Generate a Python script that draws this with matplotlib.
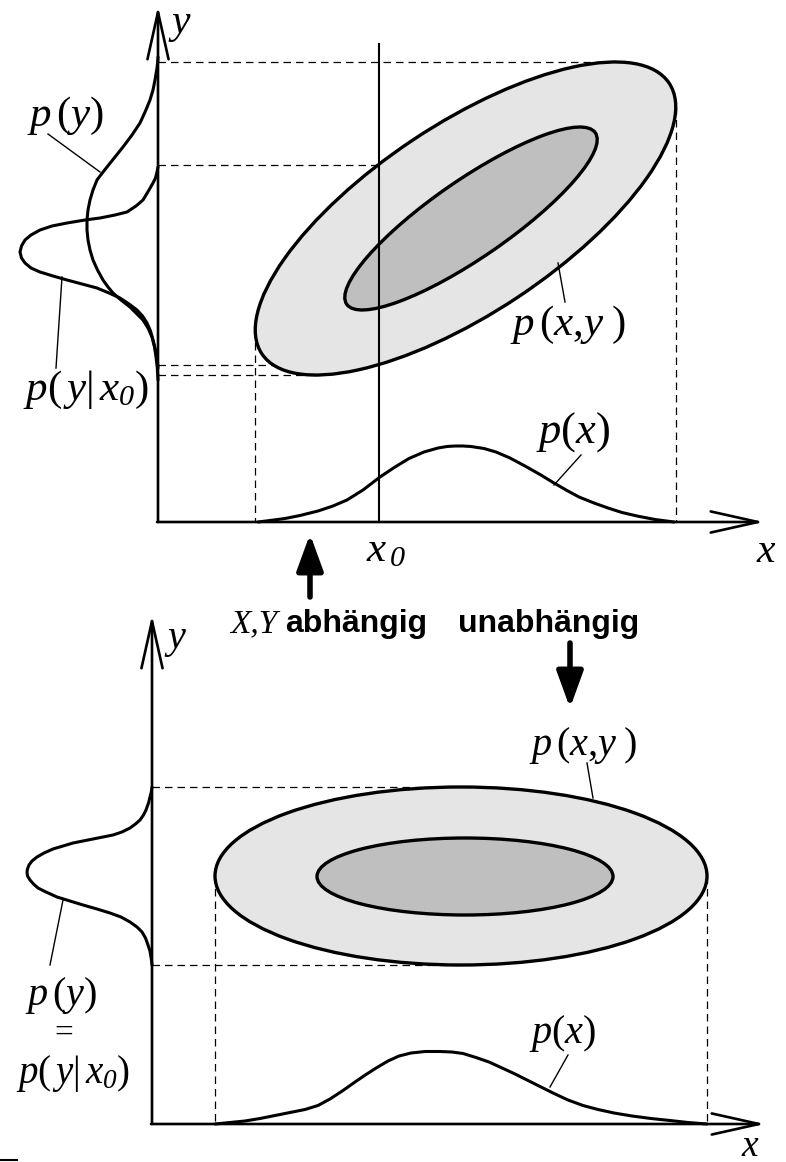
import matplotlib.pyplot as plt
from matplotlib.patches import Ellipse
import numpy as np

plt.rcParams['mathtext.fontset'] = 'custom'
plt.rcParams['mathtext.rm'] = 'Liberation Serif'
plt.rcParams['mathtext.it'] = 'Liberation Serif:italic'
plt.rcParams['mathtext.bf'] = 'Liberation Serif:bold'
plt.rcParams['mathtext.cal'] = 'Liberation Serif:italic'   # used for the italic subscript 0
plt.rcParams['font.family'] = ['Liberation Sans', 'DejaVu Sans']

# ---------- upper panel: X, Y abhaengig ----------
top_origin = (158, 522)      # y-axis x / x-axis y (pixels)
top_x0 = 378.5               # position of x0

# p(y) broad marginal, drawn left of the y-axis
py_top_y = [57, 62, 68, 74, 80, 90, 100, 111, 123, 135, 147, 157, 167, 174, 180, 190, 200, 210, 220,
            230, 240, 250, 260, 270, 280, 287, 293, 300, 307, 314, 320, 328, 337, 347, 357, 368, 380]
py_top_x = [158, 157.7, 157, 156, 155, 153, 150, 145.5, 140, 132, 123, 115, 107, 101.5, 97, 93, 90, 88, 87,
            87, 88, 90, 93, 97.5, 103, 108, 113, 121, 130, 137, 143, 148, 152, 154.5, 156, 157.3, 158]

# p(y|x0) narrow conditional
pyx_top_y = [167, 172, 178, 183, 190, 200, 206, 212, 215, 218, 220, 223, 226, 230, 235, 240, 246, 252, 258,
             263, 268, 272, 276, 280, 284, 288, 293, 298, 304, 310, 316, 323, 331, 340, 348, 357, 368]
pyx_top_x = [158, 157, 155.5, 153, 149, 143, 136, 127, 115, 100, 85, 67, 52, 40, 31, 25, 21.5, 20, 21.5,
             25, 31, 40, 53, 67, 82, 97, 109, 120, 129, 137, 142.5, 147, 150.5, 153, 155, 157, 158]

# p(x) along the x-axis
px_top_x = [258, 270, 285, 300, 318, 333, 347, 363, 380, 395, 409, 424, 438, 447, 455, 463, 471, 484, 496,
            510, 525, 540, 554, 567, 579, 594, 608, 622, 637, 655, 674]
px_top_y = [522, 520.5, 518.5, 515.5, 511, 506, 500, 490, 477, 467, 458.5, 452, 448, 446.5, 446, 446, 446.5,
            448.5, 452, 458, 466, 474.5, 483, 490.5, 497, 503, 508, 512.5, 516, 519.5, 522]

# contour ellipses: centre x, centre y, width, height, angle
outer_top = (465.5, 218.5, 489, 189, -33.6)
inner_top = (471, 218.5, 302, 77.5, -34.6)

# ---------- lower panel: unabhaengig ----------
bot_origin = (152, 1124)

py_bot_y = [787, 792, 797, 803, 810, 815, 820, 824, 828, 832, 835, 837, 839, 841, 843, 846, 849, 853, 857,
            861, 865, 869, 872, 876, 880, 884, 888, 892, 897, 901, 905, 909, 913, 917, 922, 927, 932, 938,
            945, 951, 957, 961, 965]
py_bot_x = [152, 151.3, 150, 148.5, 146, 143.5, 140, 135.5, 130, 122, 113, 103, 93, 83, 73, 63, 53, 44, 37,
            32, 29, 27.5, 27, 27.5, 30, 33.5, 38, 46, 57, 70, 83, 97, 110, 121, 130, 137, 142, 145.5,
            148, 150, 151, 151.6, 152]

px_bot_x = [215, 230, 245, 260, 275, 290, 305, 318, 330, 343, 355, 366, 377, 388, 399, 411, 425, 440, 452,
            463, 476, 489, 501, 514, 526, 538, 553, 568, 583, 598, 614, 632, 651, 670, 688, 707]
px_bot_y = [1124, 1122.5, 1121, 1118.5, 1115.5, 1112.5, 1109.5, 1105.5, 1099, 1090.5, 1082, 1074.5, 1067.5,
            1061, 1056, 1053, 1051.5, 1051.5, 1052, 1053.5, 1057.5, 1062, 1067.5, 1073.5, 1079.5, 1085.5,
            1093, 1100, 1105.5, 1109.5, 1113, 1116, 1118.5, 1120.5, 1122.5, 1124]

outer_bot = (461, 876, 492, 178, 0)
inner_bot = (465, 876.5, 296, 77, 0)

outer_fill = '#e5e5e5'
inner_fill = '#bfbfbf'


def ellipse_coeffs(cx, cy, w, h, ang):
    a, b, t = w / 2, h / 2, np.radians(ang)
    A = np.cos(t) ** 2 / a ** 2 + np.sin(t) ** 2 / b ** 2
    C = np.sin(t) ** 2 / a ** 2 + np.cos(t) ** 2 / b ** 2
    B = np.sin(t) * np.cos(t) * (1 / a ** 2 - 1 / b ** 2)
    return A, B, C


def ellipse_extremes(cx, cy, w, h, ang):
    A, B, C = ellipse_coeffs(cx, cy, w, h, ang)
    D = A * C - B * B
    hw, hh = np.sqrt(C / D), np.sqrt(A / D)
    top = (cx + B * hh / A, cy - hh)
    bottom = (cx - B * hh / A, cy + hh)
    left = (cx - hw, cy + B * hw / C)
    right = (cx + hw, cy - B * hw / C)
    return top, bottom, left, right


def vertical_chord(cx, cy, w, h, ang, x):
    A, B, C = ellipse_coeffs(cx, cy, w, h, ang)
    u = x - cx
    disc = np.sqrt((B * u) ** 2 - C * (A * u * u - 1))
    return cy + (-B * u - disc) / C, cy + (-B * u + disc) / C


fig = plt.figure(figsize=(7.86, 11.62), dpi=100)
ax = fig.add_axes([0, 0, 1, 1])
ax.set_xlim(0, 786)
ax.set_ylim(1162, 0)
ax.axis('off')

dash = dict(color='k', lw=0.9, ls=(0, (6, 4)))
curve = dict(color='k', lw=2.2, solid_capstyle='round', solid_joinstyle='round')
thin = dict(color='k', lw=1.0)
axis_arrow = dict(arrowstyle='->,head_length=1.7,head_width=0.38', lw=1.9, color='k',
                  mutation_scale=20, shrinkA=0, shrinkB=0)
fat_arrow = dict(arrowstyle='-|>,head_length=1.1,head_width=0.4', lw=4, color='k',
                 mutation_scale=20, shrinkA=0, shrinkB=0)

# ---------------- upper panel ----------------
ox, oy = top_origin
top, bottom, left, right = ellipse_extremes(*outer_top)
ax.plot([ox, top[0]], [top[1], top[1]], **dash)
ax.plot([ox, bottom[0]], [bottom[1], bottom[1]], **dash)
ax.plot([left[0], left[0]], [left[1], oy], **dash)
ax.plot([right[0], right[0]], [right[1], oy], **dash)
y_up, y_lo = vertical_chord(*outer_top, top_x0)
ax.plot([ox, top_x0], [y_up, y_up], **dash)
ax.plot([ox, top_x0], [y_lo, y_lo], **dash)

for (ecx, ecy, ew, eh, ea), fc in [(outer_top, outer_fill), (inner_top, inner_fill)]:
    ax.add_patch(Ellipse((ecx, ecy), ew, eh, angle=ea, facecolor=fc,
                         edgecolor='k', lw=2.4, zorder=2))

ax.plot([top_x0, top_x0], [44, oy], color='k', lw=1.5, zorder=3)

ax.plot(py_top_x, py_top_y, **curve)
ax.plot(pyx_top_x, pyx_top_y, **curve)
ax.plot(px_top_x, px_top_y, **curve)

ax.annotate('', xy=(ox, 6), xytext=(ox, oy), arrowprops=axis_arrow)
ax.annotate('', xy=(764, oy), xytext=(ox - 1, oy), arrowprops=axis_arrow)

ax.text(168, 24, r'$y$', fontsize=30, ha='left', va='center')
ax.text(766, 551, r'$x$', fontsize=30, ha='center', va='center')
ax.text(386, 550, r'$x_{\,\mathcal{0}}$', fontsize=31, ha='center', va='center')

ax.text(65, 116, r'$p\,(y)$', fontsize=31, ha='center', va='center')
ax.plot([48, 100], [134, 172], **thin)
ax.text(86, 390, r'$p(\,y|\,x_{\mathcal{0}})$', fontsize=31, ha='center', va='center')
ax.plot([62, 56], [277, 368], **thin)
ax.text(568, 325, r'$p\,(x{,}y\;)$', fontsize=31, ha='center', va='center')
ax.plot([558, 565], [263, 302], **thin)
ax.text(573, 432, r'$p(x)$', fontsize=32, ha='center', va='center')
ax.plot([581, 554], [455, 485], **thin)

# middle captions and arrows
ax.annotate('', xy=(310, 534), xytext=(310, 597), arrowprops=fat_arrow)
ax.annotate('', xy=(570, 708), xytext=(570, 643), arrowprops=fat_arrow)
ax.text(230, 632, 'X,Y', fontsize=24, family='Liberation Serif', style='italic',
        ha='left', va='baseline')
ax.text(285, 632, 'abhängig', fontsize=23, fontweight='bold', ha='left', va='baseline')
ax.text(458, 632, 'unabhängig', fontsize=23, fontweight='bold', ha='left', va='baseline')

# ---------------- lower panel ----------------
ox, oy = bot_origin
top, bottom, left, right = ellipse_extremes(*outer_bot)
ax.plot([ox, top[0]], [top[1], top[1]], **dash)
ax.plot([ox, bottom[0]], [bottom[1], bottom[1]], **dash)
ax.plot([left[0], left[0]], [left[1], oy], **dash)
ax.plot([right[0], right[0]], [right[1], oy], **dash)

for (ecx, ecy, ew, eh, ea), fc in [(outer_bot, outer_fill), (inner_bot, inner_fill)]:
    ax.add_patch(Ellipse((ecx, ecy), ew, eh, angle=ea, facecolor=fc,
                         edgecolor='k', lw=2.4, zorder=2))

ax.plot(py_bot_x, py_bot_y, **curve)
ax.plot(px_bot_x, px_bot_y, **curve)

ax.annotate('', xy=(ox, 615), xytext=(ox, oy), arrowprops=axis_arrow)
ax.annotate('', xy=(765, oy), xytext=(ox - 1, oy), arrowprops=axis_arrow)

ax.text(164, 640, r'$y$', fontsize=29, ha='left', va='center')
ax.text(750, 1146, r'$x$', fontsize=27, ha='center', va='center')

ax.text(583, 746, r'$p\,(x{,}y\;)$', fontsize=29, ha='center', va='center')
ax.plot([587, 593], [763, 798], **thin)
ax.text(563, 1034, r'$p(x)$', fontsize=29, ha='center', va='center')
ax.plot([568, 550], [1055, 1087], **thin)

ax.plot([63, 50], [900, 965], **thin)
ax.text(61, 996, r'$p\,(y)$', fontsize=29, ha='center', va='center')
ax.text(64, 1034, '=', fontsize=24, ha='center', va='center', family='Liberation Serif')
ax.text(73, 1073, r'$p(\,y|\,x_{\mathcal{0}})$', fontsize=28, ha='center', va='center')

ax.plot([0, 17], [1160, 1160], color='k', lw=1.5)

fig.savefig('out.png', dpi=100)
